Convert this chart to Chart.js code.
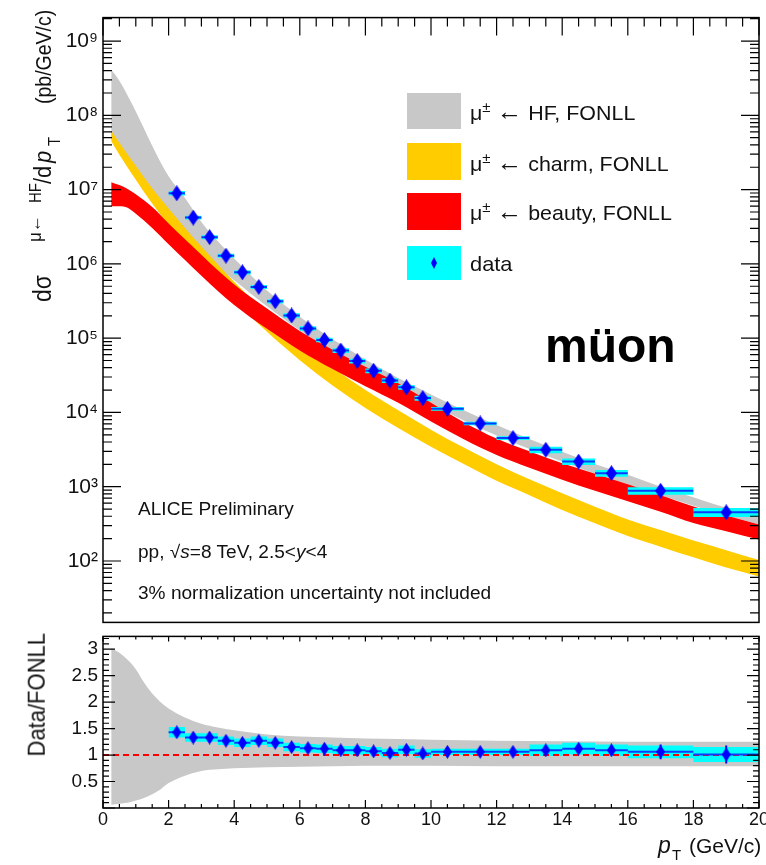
<!DOCTYPE html>
<html lang="en">
<head>
<meta charset="UTF-8">
<title>Muons from heavy-flavour decays - pp 8 TeV</title>
<script src="https://cdn.jsdelivr.net/npm/chart.js"></script>
<style>
  body { margin: 0; background: #fff; }
  #wrap { position: relative; width: 766px; height: 865px; overflow: hidden; font-family: "Liberation Sans", Arial, sans-serif; }
  canvas { position: absolute; left: 0; }
  #upper { top: 0; }
  #lower { top: 620px; }
  .lbl { position: absolute; left: 0; top: 0; white-space: nowrap; line-height: 1; color: #111; transform-origin: 0 0; }
  .lbl sup, .lbl sub { position: relative; vertical-align: baseline; font-size: 70%; }
  .lbl sup { top: -0.55em; }
  .lbl sub { top: 0.35em; }
  .key { position: absolute; width: 54px; height: 36px; }
</style>
</head>
<body>
<div id="wrap">
  <canvas id="upper" width="766" height="640"></canvas>
  <canvas id="lower" width="766" height="245"></canvas>
</div>
<script>
// measured points (bins in pT, GeV/c)
const ptBinLo = [2, 2.5, 3, 3.5, 4, 4.5, 5, 5.5, 6, 6.5, 7, 7.5, 8, 8.5, 9, 9.5, 10, 11, 12, 13, 14, 15, 16, 18];
const ptBinHi = [2.5, 3, 3.5, 4, 4.5, 5, 5.5, 6, 6.5, 7, 7.5, 8, 8.5, 9, 9.5, 10, 11, 12, 13, 14, 15, 16, 18, 20];
const ptData  = [2.25, 2.75, 3.25, 3.75, 4.25, 4.75, 5.25, 5.75, 6.25, 6.75, 7.25, 7.75, 8.25, 8.75, 9.25, 9.75, 10.5, 11.5, 12.5, 13.5, 14.5, 15.5, 17, 19];
const dsigma  = [8.93e6, 4.20e6, 2.29e6, 1.29e6, 7.71e5, 4.90e5, 3.14e5, 2.02e5, 1.35e5, 9.48e4, 6.81e4, 4.92e4,
                 3.64e4, 2.69e4, 2.18e4, 1.56e4, 1.12e4, 7110, 4520, 3140, 2180, 1520, 881, 453];
const ratio     = [1.43, 1.33, 1.33, 1.27, 1.23, 1.27, 1.23, 1.15, 1.13, 1.12, 1.09, 1.09,
                   1.07, 1.04, 1.10, 1.03, 1.06, 1.06, 1.06, 1.09, 1.12, 1.09, 1.06, 1.01];
const ratioStat = [0.02, 0.02, 0.02, 0.02, 0.02, 0.02, 0.02, 0.02, 0.02, 0.02, 0.02, 0.02,
                   0.02, 0.02, 0.02, 0.02, 0.03, 0.03, 0.03, 0.03, 0.04, 0.05, 0.14, 0.17];
const ratioSyst = [0.10, 0.08, 0.08, 0.08, 0.08, 0.08, 0.08, 0.08, 0.08, 0.08, 0.08, 0.08,
                   0.08, 0.08, 0.08, 0.08, 0.06, 0.06, 0.06, 0.11, 0.11, 0.11, 0.12, 0.14];

// FONLL bands
const fonllPt   = [0.25, 0.5, 1, 1.5, 2, 2.5, 3, 3.5, 4, 5, 6, 7, 8, 9, 10, 11, 12, 13, 14, 15, 16, 17, 18, 19, 20];
const hfHigh    = [4.15e8, 2.93e8, 1.13e8, 3.91e7, 1.51e7, 7.71e6, 3.67e6, 2.01e6, 1.18e6, 4.37e5, 1.94e5, 9.68e4,
                   5.18e4, 2.90e4, 1.75e4, 1.07e4, 6750, 4400, 2950, 2030, 1450, 1000, 720, 520, 405];
const hfLow     = [4.92e7, 3.24e7, 1.55e7, 7.71e6, 4.13e6, 2.31e6, 1.36e6, 8.96e5, 6.04e5, 2.69e5, 1.28e5, 6.68e4,
                   3.75e4, 2.20e4, 1.29e4, 7760, 4880, 3210, 2170, 1500, 1080, 766, 553, 409, 310];
const charmHigh = [6.21e7, 4.29e7, 2.09e7, 1.04e7, 5.58e6, 3.05e6, 1.71e6, 9.82e5, 5.77e5, 2.13e5, 8.83e4, 4.02e4,
                   2.00e4, 1.07e4, 5860, 3360, 2010, 1260, 815, 536, 361, 261, 189, 140, 103];
const charmLow  = [4.5e7, 2.95e7, 1.36e7, 6.5e6, 3.35e6, 1.80e6, 9.9e5, 5.64e5, 3.30e5, 1.22e5, 5.06e4, 2.30e4,
                   1.15e4, 6150, 3450, 2020, 1200, 770, 485, 322, 217, 156, 112, 82, 62];
const beautyPt   = [0.25, 0.5, 0.75, 1, 1.5, 2, 2.5, 3, 3.5, 4, 4.5, 5, 6, 7, 8, 9, 10, 11, 12, 13, 14, 15, 16, 17, 18, 19, 20];
const beautyHigh = [1.26e7, 1.15e7, 1.02e7, 8.67e6, 5.85e6, 3.51e6, 2.15e6, 1.33e6, 8.18e5, 5.28e5, 3.57e5, 2.50e5, 1.25e5, 7.0e4,
                    4.11e4, 2.47e4, 1.35e4, 7400, 4450, 3000, 2070, 1500, 1080, 766, 541, 409, 310];
const beautyLow  = [5.98e6, 5.98e6, 5.71e6, 4.74e6, 3.05e6, 1.84e6, 1.13e6, 6.93e5, 4.30e5, 2.79e5, 1.90e5, 1.34e5, 6.84e4, 3.84e4,
                    2.25e4, 1.35e4, 7570, 4350, 2670, 1800, 1240, 879, 637, 459, 324, 252, 195];

// Data/FONLL uncertainty band
const ratioBandPt   = [0.25, 0.5, 0.75, 1, 1.25, 1.5, 1.75, 2, 2.5, 3, 3.5, 4, 5, 6, 7, 8, 10, 12, 14, 16, 18, 20];
const ratioBandHigh = [3.02, 2.93, 2.80, 2.62, 2.37, 2.16, 2.00, 1.88, 1.71, 1.59, 1.52, 1.47, 1.39, 1.35, 1.33, 1.31, 1.29, 1.27, 1.26, 1.25, 1.25, 1.25];
const ratioBandLow  = [0.06, 0.08, 0.10, 0.14, 0.19, 0.26, 0.35, 0.47, 0.61, 0.70, 0.73, 0.75, 0.77, 0.78, 0.79, 0.80, 0.80, 0.79, 0.79, 0.79, 0.79, 0.79];

const decades = [1e2, 1e3, 1e4, 1e5, 1e6, 1e7, 1e8, 1e9];
const xLabels = [0, 2, 4, 6, 8, 10, 12, 14, 16, 18, 20];
const ratioLabels = [0.5, 1, 1.5, 2, 2.5, 3];

const GRAY = '#c8c8c8', YELLOW = '#ffcc00', RED = '#ff0000', CYAN = '#00ffff', BLUE = '#0000ff';

function tickList(min, max, step) {
  const out = [];
  for (let v = Math.ceil(min / step - 1e-9) * step; v <= max + 1e-9; v += step) out.push(+v.toFixed(6));
  return out;
}

function diamond(w, h) {
  const c = document.createElement('canvas');
  c.width = w; c.height = h;
  const g = c.getContext('2d');
  g.fillStyle = BLUE;
  g.beginPath();
  g.moveTo(w / 2, 0); g.lineTo(w, h / 2); g.lineTo(w / 2, h); g.lineTo(0, h / 2);
  g.closePath(); g.fill();
  return c;
}

const none = 'rgba(0,0,0,0)';

function bandSets(xs, hi, lo, color, order) {
  const common = { borderColor: none, borderWidth: 1, pointRadius: 0, cubicInterpolationMode: 'monotone', order };
  return [
    { ...common, data: xs.map((x, i) => ({ x, y: hi[i] })), fill: false },
    { ...common, data: xs.map((x, i) => ({ x, y: lo[i] })), fill: '-1', backgroundColor: color }
  ];
}

function pointSets(vals, stat, syst, marker) {
  const boxHi = [], boxLo = [], hbars = [], vbars = [], marks = [];
  ptData.forEach((x, i) => {
    const v = vals[i], lo = ptBinLo[i], hi = ptBinHi[i];
    boxHi.push({ x: lo, y: v + syst[i] }, { x: hi, y: v + syst[i] });
    boxLo.push({ x: lo, y: v - syst[i] }, { x: hi, y: v - syst[i] });
    hbars.push({ x: lo, y: v }, { x: hi, y: v }, { x: hi, y: null });
    vbars.push({ x, y: v - stat[i] }, { x, y: v + stat[i] }, { x, y: null });
    marks.push({ x, y: v });
  });
  return [
    { data: boxHi, borderColor: none, borderWidth: 1, pointRadius: 0, fill: false, order: 6 },
    { data: boxLo, borderColor: none, borderWidth: 1, pointRadius: 0, fill: '-1', backgroundColor: CYAN, order: 6 },
    { data: hbars, borderColor: '#0a3cff', borderWidth: 2, pointRadius: 0, spanGaps: false, order: 4 },
    { data: vbars, borderColor: BLUE, borderWidth: 2, pointRadius: 0, spanGaps: false, order: 3 },
    { data: marks, showLine: false, pointStyle: marker, pointRadius: 6, order: 1 }
  ];
}

// inward tick marks and frame, placed through the chart scales
const frame = {
  id: 'frame',
  afterDatasetsDraw(chart, args, o) {
    const { ctx, chartArea: a } = chart;
    const sx = chart.scales.x, sy = chart.scales.y;
    ctx.save();
    ctx.strokeStyle = '#000';
    ctx.lineWidth = 1.2;
    ctx.beginPath();
    const seg = (x1, y1, x2, y2) => { ctx.moveTo(x1, y1); ctx.lineTo(x2, y2); };
    o.xMinor.forEach(v => {
      const p = sx.getPixelForValue(v);
      const k = o.xMajor.includes(v) ? 0 : 1;
      if (o.xTop) seg(p, a.top, p, a.top + o.xTop[k]);
      if (o.xBottom) seg(p, a.bottom, p, a.bottom - o.xBottom[k]);
    });
    o.yMinor.forEach(v => {
      const p = sy.getPixelForValue(v);
      if (p < a.top - 0.5 || p > a.bottom + 0.5) return;
      const k = o.yMajor.includes(v) ? 0 : 1;
      seg(a.left, p, a.left + o.yLeft[k], p);
      seg(a.right, p, a.right - o.yRight[k], p);
    });
    ctx.stroke();
    ctx.lineWidth = 1.5;
    ctx.strokeRect(a.left, a.top, a.right - a.left, a.bottom - a.top);
    ctx.restore();
  }
};

const supDigits = { '0': '\u2070', '1': '\u00b9', '2': '\u00b2', '3': '\u00b3', '4': '\u2074', '5': '\u2075', '6': '\u2076', '7': '\u2077', '8': '\u2078', '9': '\u2079' };
const toSup = n => String(n).split('').map(c => supDigits[c]).join('');

const logMinor = [];
for (let e = 1; e <= 9; e++) for (let k = 1; k <= 9; k++) logMinor.push(k * Math.pow(10, e));

// upper panel: cross sections
const bigDiamond = diamond(11, 16);
const upperStat = dsigma.map((v, i) => v * ratioStat[i] / ratio[i]);
const upperSyst = dsigma.map((v, i) => v * ratioSyst[i] / ratio[i]);

new Chart(document.getElementById('upper'), {
  type: 'line',
  data: {
    datasets: [
      ...bandSets(fonllPt, hfHigh, hfLow, GRAY, 10),
      ...bandSets(fonllPt, charmHigh, charmLow, YELLOW, 9),
      ...bandSets(beautyPt, beautyHigh, beautyLow, RED, 8),
      ...pointSets(dsigma, upperStat, upperSyst, bigDiamond)
    ]
  },
  options: {
    responsive: false,
    animation: false,
    events: [],
    layout: { padding: { top: 12, right: 4, bottom: 8, left: 0 } },
    plugins: {
      legend: { display: false },
      tooltip: { enabled: false },
      frame: {
        xMajor: tickList(0, 20, 2), xMinor: tickList(0, 20, 0.5), xTop: [18, 9], xBottom: null,
        yMajor: decades, yMinor: logMinor, yLeft: [18, 9], yRight: [18, 9]
      }
    },
    scales: {
      x: { type: 'linear', min: 0, max: 20, display: false },
      y: {
        type: 'logarithmic', min: 14.9, max: 2.07e9,
        grid: { display: false, drawTicks: false }, border: { display: false },
        afterBuildTicks: s => { s.ticks = decades.map(v => ({ value: v })); },
        afterFit: s => { s.width = 103; },
        ticks: {
          padding: 5, color: '#111',
          font: { family: 'Liberation Sans', size: 21 },
          callback: v => '10' + toSup(Math.round(Math.log10(v)))
        }
      }
    }
  },
  plugins: [frame]
});

// lower panel: Data/FONLL
const smallDiamond = diamond(9, 14);

new Chart(document.getElementById('lower'), {
  type: 'line',
  data: {
    datasets: [
      ...bandSets(ratioBandPt, ratioBandHigh, ratioBandLow, GRAY, 10),
      { data: [{ x: 0, y: 1 }, { x: 20, y: 1 }], borderColor: RED, borderWidth: 2, borderDash: [6, 4], pointRadius: 0, order: 5 },
      ...pointSets(ratio, ratioStat, ratioSyst, smallDiamond)
    ]
  },
  options: {
    responsive: false,
    animation: false,
    events: [],
    layout: { padding: { top: 12, right: 4, bottom: 0, left: 0 } },
    plugins: {
      legend: { display: false },
      tooltip: { enabled: false },
      frame: {
        xMajor: tickList(0, 20, 2), xMinor: tickList(0, 20, 0.5), xTop: [5, 3], xBottom: [8, 4],
        yMajor: tickList(0, 3.24, 0.5), yMinor: tickList(0, 3.24, 0.1), yLeft: [12, 6], yRight: [12, 6]
      }
    },
    scales: {
      x: {
        type: 'linear', min: 0, max: 20,
        grid: { display: false, drawTicks: false }, border: { display: false },
        afterBuildTicks: s => { s.ticks = xLabels.map(v => ({ value: v })); },
        afterFit: s => { s.height = 57; s.paddingLeft = 0; s.paddingRight = 0; },
        ticks: { padding: 1, autoSkip: false, maxRotation: 0, color: '#111', font: { family: 'Liberation Sans', size: 18 } }
      },
      y: {
        type: 'linear', min: 0, max: 3.24,
        grid: { display: false, drawTicks: false }, border: { display: false },
        afterBuildTicks: s => { s.ticks = ratioLabels.map(v => ({ value: v })); },
        afterFit: s => { s.width = 103; },
        ticks: { padding: 5, color: '#111', font: { family: 'Liberation Sans', size: 19 }, callback: v => String(v) }
      }
    }
  },
  plugins: [frame]
});

// text, legend and titles
const wrap = document.getElementById('wrap');

function put(html, x, y, size, o = {}) {
  const d = document.createElement('div');
  d.className = 'lbl';
  d.innerHTML = html;
  d.style.fontSize = size + 'px';
  if (o.bold) d.style.fontWeight = 'bold';
  if (o.color) d.style.color = o.color;
  const base = 0.8465 * size;
  d.style.transform = `translate(${x}px, ${y}px) scale(${o.sx || 1}, 1)` +
    (o.rot ? ' rotate(-90deg)' : '') +
    ` translate(${o.right ? '-100%' : '0px'}, ${-base}px)`;
  wrap.appendChild(d);
}

function key(color, top, h) {
  const k = document.createElement('div');
  k.className = 'key';
  k.style.left = '407px';
  k.style.top = top + 'px';
  k.style.height = h + 'px';
  k.style.background = color;
  wrap.appendChild(k);
  return k;
}

key(GRAY, 93, 36);
key(YELLOW, 143, 37);
key(RED, 193, 37);
const dataKey = key(CYAN, 246, 34);
const dm = document.createElement('div');
dm.style.cssText = 'position:absolute;left:24px;top:11px;width:6px;height:12px;background:' + BLUE +
  ';clip-path:polygon(50% 0,100% 50%,50% 100%,0 50%);';
dataKey.appendChild(dm);

const arrow = '<span style="font-size:120%">\u2190</span>';
put('\u03bc<sup>\u00b1</sup> ' + arrow + ' HF, FONLL', 470, 117, 21, { sx: 1.02 });
put('\u03bc<sup>\u00b1</sup> ' + arrow + ' charm, FONLL', 470, 168, 21, { sx: 1.02 });
put('\u03bc<sup>\u00b1</sup> ' + arrow + ' beauty, FONLL', 470, 217, 21, { sx: 1.02 });
put('data', 470, 271, 21, { sx: 1.04 });

put('ALICE Preliminary', 138, 515, 18, { sx: 1.06 });
put('pp, \u221a<i>s</i>=8 TeV, 2.5&lt;<i>y</i>&lt;4', 138, 558, 18, { sx: 1.06 });
put('3% normalization uncertainty not included', 138, 599, 18, { sx: 1.06 });

put('m\u00fcon', 545, 363, 48, { bold: true, color: '#000' });

// y title of the upper panel, pieces placed along the axis
put('d\u03c3', 52, 302, 23, { rot: true, sx: 1.1 });
put('\u03bc\u2190', 41, 242, 17, { rot: true, sx: 1.1 });
put('HF', 41, 203, 15, { rot: true, sx: 1.1 });
put('/d', 52, 184, 22, { rot: true, sx: 1.1 });
put('<i>p</i>', 52, 163, 22, { rot: true, sx: 1.1 });
put('T', 60, 146, 15, { rot: true, sx: 1.1 });
put('(pb/GeV/c)', 52, 104, 19.5, { rot: true, sx: 1.1 });

put('Data/FONLL', 45, 633, 22, { rot: true, sx: 1.08, right: true });

put('<i>p</i>', 658, 853, 23);
put('T', 672, 860, 15);
put('(GeV/c)', 689, 853, 21);
</script>
</body>
</html>
